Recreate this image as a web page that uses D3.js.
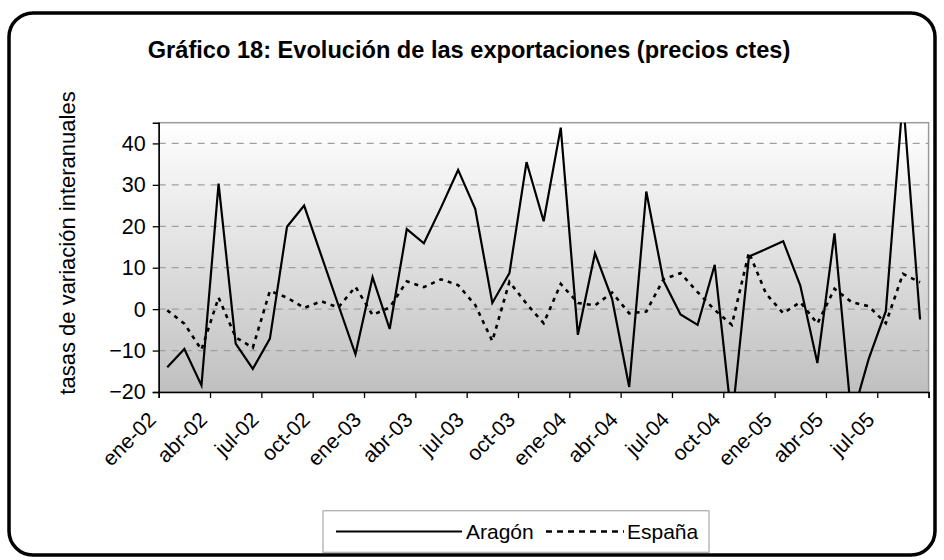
<!DOCTYPE html>
<html>
<head>
<meta charset="utf-8">
<script src="https://cdn.jsdelivr.net/npm/d3@7"></script>
<style>
  body { margin: 0; background: #fff; }
  svg text { font-family: "Liberation Sans", Arial, sans-serif; fill: #000; }
</style>
</head>
<body>
<div id="chart"></div>
<script>
// monthly categories ene-02 .. sep-05
var months = ["ene-02","feb-02","mar-02","abr-02","may-02","jun-02","jul-02","ago-02","sep-02","oct-02","nov-02","dic-02",
              "ene-03","feb-03","mar-03","abr-03","may-03","jun-03","jul-03","ago-03","sep-03","oct-03","nov-03","dic-03",
              "ene-04","feb-04","mar-04","abr-04","may-04","jun-04","jul-04","ago-04","sep-04","oct-04","nov-04","dic-04",
              "ene-05","feb-05","mar-05","abr-05","may-05","jun-05","jul-05","ago-05","sep-05"];

var aragon = [-14, -9.6, -18.4, 30.3, -8.3, -14.4, -7.1, 19.9, 25, 13, 1, -10.9,
              7.7, -4.8, 19.3, 15.9, 24.5, 33.6, 24.2, 1.5, 8.7, 35.5, 21.2, 43.8,
              -6.2, 13.5, 2.5, -18.8, 28.4, 6.9, -1.3, -3.8, 10.7, -27, 12.7, 14.5,
              16.4, 5.7, -13, 18.3, -26.5, -12, -0.5, 51, -2.5];

var espana = [-0.3, -3.5, -9.8, 2.8, -6.8, -9.3, 4.4, 2.8, 0.3, 1.9, 0.4, 5.4,
              -1.4, 0.4, 6.7, 5.3, 7.2, 5.8, 1, -7.7, 6.6, 1.3, -3.4, 6.1,
              1.5, 0.9, 4, -1, -0.6, 7.2, 8.7, 4.1, -0.2, -3.8, 13.7, 3.7,
              -1, 1.7, -3.5, 4.9, 1.7, 0.7, -3.4, 8.5, 6.5];

var yTicks = [-20, -10, 0, 10, 20, 30, 40];
var title = "Gráfico 18: Evolución de las exportaciones (precios ctes)";
var yLabel = "tasas de variación interanuales";

var width = 944, height = 560;
var plot = {left: 158.7, right: 928.6, top: 122.7, bottom: 392};

var svg = d3.select("#chart").append("svg")
    .attr("width", width)
    .attr("height", height);

var defs = svg.append("defs");
var grad = defs.append("linearGradient")
    .attr("id", "bg").attr("x1", 0).attr("y1", 0).attr("x2", 0).attr("y2", 1);
grad.append("stop").attr("offset", "0%").attr("stop-color", "#ffffff");
grad.append("stop").attr("offset", "100%").attr("stop-color", "#c0c0c0");

defs.append("clipPath").attr("id", "clip")
  .append("rect")
    .attr("x", plot.left).attr("y", plot.top)
    .attr("width", plot.right - plot.left)
    .attr("height", plot.bottom - plot.top);

// outer frame
svg.append("rect")
    .attr("x", 9).attr("y", 13)
    .attr("width", 926).attr("height", 542)
    .attr("rx", 24).attr("ry", 24)
    .attr("fill", "#fff")
    .attr("stroke", "#000")
    .attr("stroke-width", 3.5);

// scales
var x = d3.scaleLinear().domain([0, months.length]).range([plot.left, plot.right]);
var y = d3.scaleLinear().domain([-20, 45]).range([plot.bottom, plot.top]);

// plot area
svg.append("rect")
    .attr("x", plot.left).attr("y", plot.top)
    .attr("width", plot.right - plot.left)
    .attr("height", plot.bottom - plot.top)
    .attr("fill", "url(#bg)")
    .attr("stroke", "#9a9a9a")
    .attr("stroke-width", 1.5);

// gridlines
svg.append("g")
  .selectAll("line")
  .data(yTicks.filter(function(d) { return d > -20; }))
  .enter().append("line")
    .attr("x1", plot.left).attr("x2", plot.right)
    .attr("y1", function(d) { return y(d); })
    .attr("y2", function(d) { return y(d); })
    .attr("stroke", "#a0a0a0")
    .attr("stroke-width", 1.3)
    .attr("stroke-dasharray", "7,6");

// y axis
var yAxis = svg.append("g")
    .attr("transform", "translate(" + plot.left + ",0)")
    .call(d3.axisLeft(y).tickValues(yTicks).tickSize(6).tickPadding(7).tickFormat(d3.format("d")));
yAxis.select(".domain").attr("stroke", "#000").attr("stroke-width", 1.5);
yAxis.selectAll(".tick line").attr("stroke", "#000").attr("stroke-width", 1.3);
yAxis.selectAll(".tick text")
    .attr("font-size", "21.5px")
    .attr("font-family", "Liberation Sans, Arial, sans-serif");

// x axis: ticks every 3 months at category boundaries
var tickIdx = d3.range(0, months.length + 1, 3);
var xAxis = svg.append("g")
    .attr("transform", "translate(0," + plot.bottom + ")")
    .call(d3.axisBottom(x).tickValues(tickIdx).tickSize(6).tickFormat(""));
xAxis.select(".domain").attr("stroke", "#000").attr("stroke-width", 1.5);
xAxis.selectAll(".tick line").attr("stroke", "#000").attr("stroke-width", 1.3);

var labelIdx = d3.range(0, months.length, 3);
svg.append("g")
  .selectAll("text")
  .data(labelIdx)
  .enter().append("text")
    .attr("transform", function(i) {
      return "translate(" + (x(i + 0.5) - 10) + "," + (plot.bottom + 29) + ") rotate(-45)";
    })
    .attr("text-anchor", "end")
    .attr("font-size", "21px")
    .text(function(i) { return months[i]; });

// lines
var line = d3.line()
    .x(function(d, i) { return x(i + 0.5); })
    .y(function(d) { return y(d); });

var lines = svg.append("g").attr("clip-path", "url(#clip)");
lines.append("path")
    .datum(espana)
    .attr("d", line)
    .attr("fill", "none")
    .attr("stroke", "#000")
    .attr("stroke-width", 2.6)
    .attr("stroke-dasharray", "4,5");
lines.append("path")
    .datum(aragon)
    .attr("d", line)
    .attr("fill", "none")
    .attr("stroke", "#000")
    .attr("stroke-width", 2.2)
    .attr("stroke-linejoin", "miter");

// title
svg.append("text")
    .attr("x", 469).attr("y", 58)
    .attr("text-anchor", "middle")
    .attr("font-size", "23.6px")
    .attr("font-weight", "bold")
    .text(title);

// y label
svg.append("text")
    .attr("transform", "translate(75,243) rotate(-90)")
    .attr("text-anchor", "middle")
    .attr("font-size", "22px")
    .text(yLabel);

// legend
var legend = svg.append("g");
legend.append("rect")
    .attr("x", 323).attr("y", 510.7)
    .attr("width", 386).attr("height", 41.6)
    .attr("fill", "#fff")
    .attr("stroke", "#b0b0b0")
    .attr("stroke-width", 1.3);
legend.append("line")
    .attr("x1", 336).attr("x2", 462)
    .attr("y1", 531.5).attr("y2", 531.5)
    .attr("stroke", "#000").attr("stroke-width", 2.2);
legend.append("text")
    .attr("x", 466).attr("y", 539)
    .attr("font-size", "21px")
    .text("Aragón");
legend.append("line")
    .attr("x1", 546).attr("x2", 624)
    .attr("y1", 531.5).attr("y2", 531.5)
    .attr("stroke", "#000").attr("stroke-width", 2.6)
    .attr("stroke-dasharray", "6,5");
legend.append("text")
    .attr("x", 627).attr("y", 539)
    .attr("font-size", "21px")
    .text("España");
</script>
</body>
</html>
